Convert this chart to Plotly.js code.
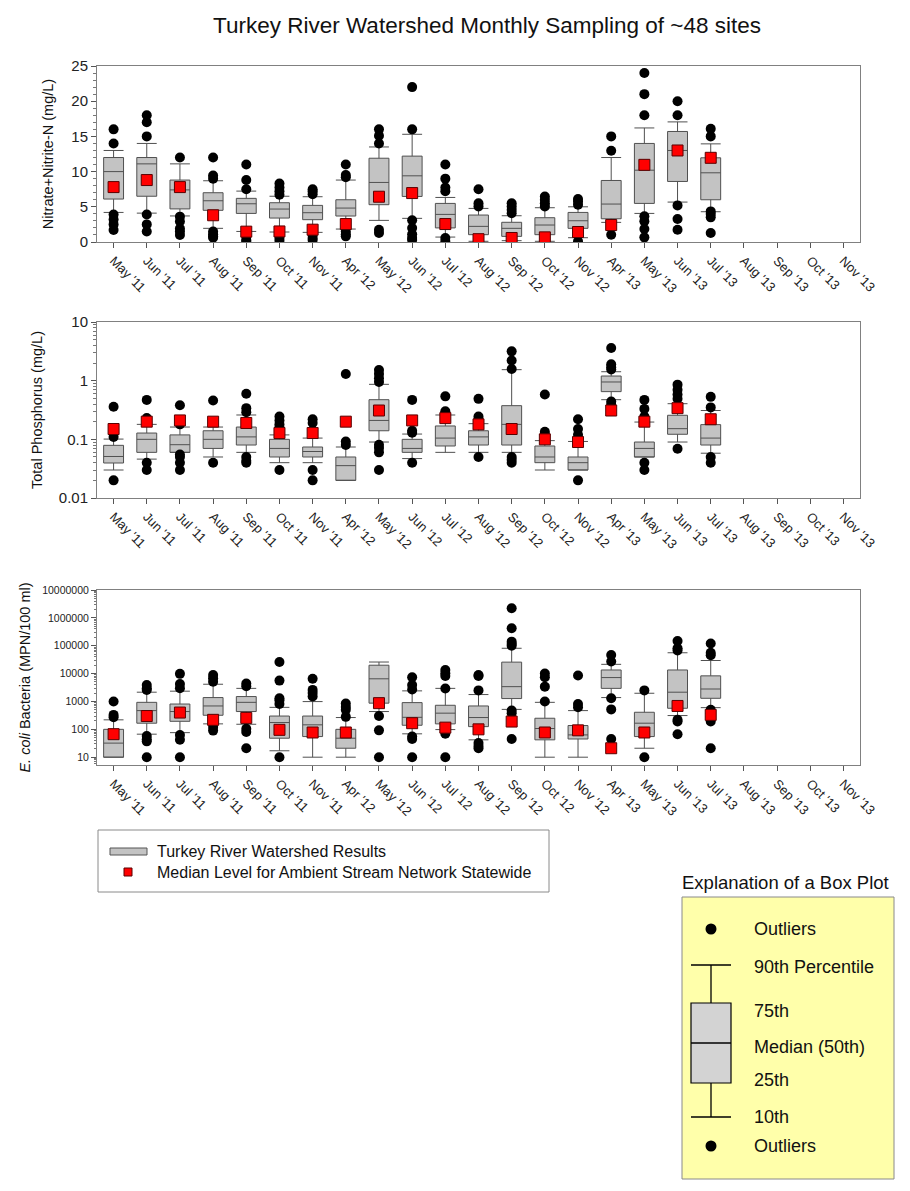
<!DOCTYPE html>
<html>
<head>
<meta charset="utf-8">
<script src="https://cdn.plot.ly/plotly-3.0.1.min.js"></script>
<style>html,body{margin:0;padding:0;background:#fff;}#chart{width:910px;height:1191px;}</style>
</head>
<body>
<div id="chart"></div>
<script>
// ---------- categories ----------
const months = ["May '11","Jun '11","Jul '11","Aug '11","Sep '11","Oct '11","Nov '11",
  "Apr '12","May '12","Jun '12","Jul '12","Aug '12","Sep '12","Oct '12","Nov '12",
  "Apr '13","May '13","Jun '13","Jul '13","Aug '13","Sep '13","Oct '13","Nov '13"];

// ---------- Nitrate+Nitrite-N (mg/L) ----------
const no3_q1  = [6.1, 6.5, 4.7, 4.5, 4.06, 3.4, 3.17, 3.69, 5.3, 6.47, 2.0, 1.04, 0.8, 1.04, 1.94, 3.3, 5.48, 8.6, 6.0];
const no3_med = [10.0, 11.1, 7.4, 5.86, 5.43, 4.68, 4.16, 4.82, 8.46, 9.4, 3.92, 2.22, 1.94, 2.41, 3.02, 5.39, 10.2, 13.0, 9.83];
const no3_q3  = [12.0, 12.0, 8.8, 7.0, 6.2, 5.58, 5.2, 6.0, 11.9, 12.2, 5.48, 3.83, 2.8, 3.45, 4.2, 8.74, 14.0, 15.7, 11.96];
const no3_p10 = [4.2, 4.1, 3.7, 1.94, 1.5, 1.42, 1.37, 1.84, 3.07, 3.36, 0.7, 0.1, 0.19, 0.1, 0.61, 2.79, 4.06, 5.67, 4.3];
const no3_p90 = [13.0, 14.0, 11.1, 8.7, 7.23, 6.5, 6.43, 8.8, 13.5, 15.3, 6.33, 4.77, 3.73, 4.87, 5.0, 12.0, 16.2, 17.06, 13.94];
const no3_out = [
  [16, 14, 3.9, 3.2, 2.5, 1.7],
  [18, 17, 15, 3.9, 2.5, 1.5],
  [12, 3.6, 2.9, 1.9, 1.5, 1.0],
  [12, 9.45, 9.0, 1.5, 1.1, 0.8, 0.6],
  [11, 8.8, 7.5, 0.8, 0.3, 0.1],
  [8.3, 7.75, 7.2, 6.7, 1.0, 0.57, 0.2],
  [7.5, 7.2, 6.8, 1.0, 0.57, 0.28],
  [11, 9.5, 9.2, 1.5, 1.1, 0.8],
  [16, 15.1, 14.0, 1.75, 1.28],
  [22, 16, 3.1, 2.0, 1.1, 0.57, 0.3],
  [11, 9.0, 7.75, 7.2, 0.57, 0.1],
  [7.5, 5.5, 5.06, 0.05],
  [5.5, 5.06, 4.58, 4.1, 0.05],
  [6.47, 6.0, 5.5, 5.06, 0.05],
  [6.1, 5.77, 5.3, 0.1],
  [15, 12.95, 1.04],
  [24, 21, 18, 3.64, 2.93, 1.84, 0.66],
  [20, 18, 5.2, 3.26, 1.75],
  [16.07, 15, 4.35, 3.97, 3.5, 1.28]
];
const no3_state = [7.8, 8.8, 7.8, 3.8, 1.47, 1.5, 1.75, 2.55, 6.43, 6.95, 2.55, 0.4, 0.57, 0.66, 1.42, 2.41, 10.96, 13.0, 11.96];

// ---------- Total Phosphorus (mg/L) ----------
const tp_q1  = [0.0395, 0.06, 0.06, 0.07, 0.08, 0.05, 0.05, 0.02, 0.14, 0.06, 0.077, 0.08, 0.08, 0.04, 0.03, 0.65, 0.05, 0.122, 0.08];
const tp_med = [0.051, 0.1, 0.081, 0.1, 0.11, 0.07, 0.062, 0.0356, 0.21, 0.07, 0.105, 0.11, 0.18, 0.05, 0.04, 0.95, 0.07, 0.152, 0.105];
const tp_q3  = [0.079, 0.128, 0.119, 0.14, 0.162, 0.1, 0.074, 0.05, 0.474, 0.1, 0.169, 0.14, 0.375, 0.077, 0.05, 1.2, 0.09, 0.257, 0.178];
const tp_p10 = [0.03, 0.046, 0.06, 0.05, 0.06, 0.04, 0.04, 0.02, 0.09, 0.047, 0.06, 0.06, 0.06, 0.03, 0.03, 0.474, 0.05, 0.09, 0.058];
const tp_p90 = [0.101, 0.18, 0.162, 0.162, 0.26, 0.119, 0.105, 0.074, 0.866, 0.123, 0.26, 0.185, 1.54, 0.095, 0.092, 1.42, 0.197, 0.405, 0.31];
const tp_out = [
  [0.36, 0.11, 0.02],
  [0.47, 0.23, 0.04, 0.03],
  [0.38, 0.18, 0.055, 0.05, 0.04, 0.03],
  [0.46, 0.04],
  [0.6, 0.34, 0.29, 0.05, 0.043, 0.04],
  [0.245, 0.21, 0.18, 0.16, 0.03],
  [0.22, 0.19, 0.03, 0.02],
  [1.3, 0.092, 0.08],
  [1.52, 1.3, 1.1, 0.95, 0.081, 0.071, 0.06, 0.03],
  [0.47, 0.14, 0.13, 0.04],
  [0.54, 0.30, 0.28],
  [0.49, 0.245, 0.22, 0.05],
  [3.16, 2.2, 1.58, 0.05, 0.045, 0.04],
  [0.58, 0.135, 0.12],
  [0.22, 0.15, 0.12, 0.02],
  [3.6, 1.9, 1.7, 1.55, 0.44, 0.39],
  [0.47, 0.33, 0.245, 0.04, 0.03],
  [0.855, 0.7, 0.58, 0.49, 0.069],
  [0.53, 0.35, 0.05, 0.04]
];
const tp_state = [0.15, 0.20, 0.21, 0.20, 0.19, 0.128, 0.128, 0.20, 0.31, 0.21, 0.23, 0.18, 0.15, 0.10, 0.09, 0.31, 0.20, 0.34, 0.22];

// ---------- E. coli Bacteria (MPN/100 ml) ----------
const ec_q1  = [10, 166, 194, 320, 435, 48, 55, 21, 870, 140, 157, 125, 1270, 42, 45, 2950, 55, 570, 1300];
const ec_med = [32, 470, 435, 690, 930, 175, 145, 48, 6500, 270, 380, 265, 3400, 107, 63, 7200, 166, 2150, 2800];
const ec_q3  = [100, 930, 810, 1380, 1500, 300, 300, 100, 20000, 910, 730, 690, 25800, 250, 137, 13500, 410, 13500, 8300];
const ec_p10 = [10, 67, 76, 157, 152, 17, 10, 10, 435, 69, 98, 42, 520, 10, 10, 1380, 21, 312, 600];
const ec_p90 = [219, 2150, 2340, 4150, 2950, 615, 990, 265, 26000, 2400, 2950, 1770, 81000, 930, 470, 21500, 1970, 56000, 29500];
const ec_out = [
  [1000, 330, 270],
  [3900, 3000, 2600, 58, 44, 37, 10],
  [9800, 4200, 3000, 63, 42, 10],
  [8900, 6800, 5100, 120, 90],
  [4400, 3500, 105, 80, 21],
  [26000, 5600, 1300, 1100, 810, 10],
  [6500, 2600, 2000, 1500],
  [850, 630, 500, 280],
  [300, 92, 10],
  [7400, 3900, 2700, 55, 45, 10],
  [13500, 10300, 8200, 2900, 69, 10],
  [8900, 8200, 2500, 32, 25, 21],
  [2200000, 425000, 140000, 116000, 100000, 470, 380, 45],
  [10000, 7400, 3400, 1000],
  [8500, 810, 620],
  [46500, 27000, 1300, 520, 45],
  [2500, 10],
  [148000, 81000, 68000, 220, 190, 67],
  [120000, 56000, 46000, 500, 380, 285, 190, 21]
];
const ec_state = [67, 300, 400, 219, 257, 96, 77, 77, 870, 166, 115, 100, 190, 77, 92, 21, 77, 690, 330];

const no3_ticks = [0, 5, 10, 15, 20, 25];
const tp_ticks = [0.01, 0.1, 1, 10];
const tp_ticktext = ["0.01", "0.1", "1", "10"];
const ec_ticks = [10, 100, 1000, 10000, 100000, 1000000, 10000000];
const ec_ticktext = ["10", "100", "1000", "10000", "100000", "1000000", "10000000"];

// minor ticks: 2..9 times each decade
function logMinor(decades) {
  const out = [];
  decades.forEach(d => { for (let k = 2; k <= 9; k++) out.push(+(d * k).toPrecision(3)); });
  return out;
}

// ---------- builders ----------
const W = 910, H = 1191;
const FONT = "Liberation Sans, Arial, Helvetica, sans-serif";
const px = v => v / W;
const py = v => 1 - v / H;

function panel(q1, med, q3, p10, p90, outs, state, xa, ya) {
  const xs = months.slice(0, q1.length);
  const box = {
    type: 'box', x: xs, q1: q1, median: med, q3: q3,
    lowerfence: p10, upperfence: p90,
    boxpoints: false, width: 0.6, whiskerwidth: 1,
    fillcolor: '#c3c3c3', line: {color: '#505050', width: 1},
    xaxis: xa, yaxis: ya, name: 'Turkey River Watershed Results',
    showlegend: false, hoverinfo: 'skip'
  };
  const ox = [], oy = [];
  outs.forEach((arr, i) => arr.forEach(v => { ox.push(xs[i]); oy.push(v); }));
  const out = {
    type: 'scatter', mode: 'markers', x: ox, y: oy,
    marker: {color: '#000', size: 10, symbol: 'circle'},
    xaxis: xa, yaxis: ya, name: 'Outliers', showlegend: false, hoverinfo: 'skip'
  };
  const st = {
    type: 'scatter', mode: 'markers', x: xs, y: state,
    marker: {color: '#ff0000', size: 11, symbol: 'square', line: {color: '#5a0000', width: 1}},
    xaxis: xa, yaxis: ya, name: 'Median Level for Ambient Stream Network Statewide',
    showlegend: false, hoverinfo: 'skip'
  };
  return [box, out, st];
}

const data = [].concat(
  panel(no3_q1, no3_med, no3_q3, no3_p10, no3_p90, no3_out, no3_state, 'x', 'y'),
  panel(tp_q1, tp_med, tp_q3, tp_p10, tp_p90, tp_out, tp_state, 'x2', 'y2'),
  panel(ec_q1, ec_med, ec_q3, ec_p10, ec_p90, ec_out, ec_state, 'x3', 'y3')
);

function xaxis(anchor) {
  return {
    domain: [px(97), px(860)], anchor: anchor, type: 'category',
    categoryorder: 'array', categoryarray: months, tickvals: months,
    range: [-0.5, months.length - 0.5], tickangle: 45,
    ticks: 'outside', ticklen: 5, tickcolor: '#555',
    showline: true, mirror: true, linecolor: '#808080', linewidth: 1,
    showgrid: false, zeroline: false,
    tickfont: {family: FONT, size: 13, color: '#222'}
  };
}
function yaxisBase(top, bottom) {
  return {
    domain: [py(bottom), py(top)], ticks: 'outside', ticklen: 5, tickcolor: '#555',
    showline: true, mirror: true, linecolor: '#808080', linewidth: 1,
    showgrid: false, zeroline: false,
    tickfont: {family: FONT, size: 15, color: '#222'}
  };
}

const layout = {
  width: W, height: H,
  margin: {l: 0, r: 0, t: 0, b: 0},
  paper_bgcolor: '#fff', plot_bgcolor: '#fff',
  font: {family: FONT, color: '#111'},
  showlegend: false,
  title: {text: 'Turkey River Watershed Monthly Sampling of ~48 sites',
          x: px(487), xanchor: 'center', y: py(25), yanchor: 'middle',
          font: {family: FONT, size: 22.5, color: '#111'}},
  xaxis: xaxis('y'),
  xaxis2: xaxis('y2'),
  xaxis3: xaxis('y3'),
  yaxis: Object.assign(yaxisBase(66, 242), {
    anchor: 'x', range: [0, 25], tickvals: no3_ticks,
    minor: {ticks: 'outside', ticklen: 3, dtick: 1, tickcolor: '#777'},
    title: {text: 'Nitrate+Nitrite-N (mg/L)', standoff: 14, font: {family: FONT, size: 14.5}}
  }),
  yaxis2: Object.assign(yaxisBase(322, 498), {
    anchor: 'x2', type: 'log', range: [-2, 1], tickvals: tp_ticks, ticktext: tp_ticktext,
    minor: {ticks: 'outside', ticklen: 3, tickcolor: '#777', tickvals: logMinor([0.01, 0.1, 1])},
    title: {text: 'Total Phosphorus (mg/L)', standoff: 12, font: {family: FONT, size: 14.5}}
  }),
  yaxis3: Object.assign(yaxisBase(590, 765), {
    anchor: 'x3', type: 'log', range: [0.72, 7], tickvals: ec_ticks, ticktext: ec_ticktext,
    tickfont: {family: FONT, size: 10.5, color: '#222'},
    minor: {ticks: 'outside', ticklen: 2, tickcolor: '#777', tickvals: logMinor([1, 10, 100, 1000, 10000, 100000, 1000000])},
    title: {text: '<i>E. coli</i> Bacteria (MPN/100 ml)', standoff: 8, font: {family: FONT, size: 14.5}}
  }),
  shapes: [],
  annotations: []
};

// ---------- legend box ----------
const S = layout.shapes, A = layout.annotations;
function rect(x0, y0, x1, y1, fill, line, lw) {
  S.push({type: 'rect', xref: 'paper', yref: 'paper', x0: px(x0), x1: px(x1), y0: py(y1), y1: py(y0),
          fillcolor: fill, line: {color: line, width: lw === undefined ? 1 : lw}});
}
function seg(x0, y0, x1, y1, col) {
  S.push({type: 'line', xref: 'paper', yref: 'paper', x0: px(x0), x1: px(x1), y0: py(y0), y1: py(y1),
          line: {color: col || '#000', width: 1.3}});
}
function dot(cx, cy, r) {
  S.push({type: 'circle', xref: 'paper', yref: 'paper', x0: px(cx - r), x1: px(cx + r), y0: py(cy + r), y1: py(cy - r),
          fillcolor: '#000', line: {color: '#000', width: 0}});
}
function text(x, y, t, size, anchor) {
  A.push({xref: 'paper', yref: 'paper', x: px(x), y: py(y), text: t, showarrow: false,
          xanchor: anchor || 'left', yanchor: 'middle', font: {family: FONT, size: size, color: '#111'}});
}

rect(98, 830, 549, 892, 'rgba(0,0,0,0)', '#8a8a8a', 1);
rect(110, 848, 147, 855, '#c3c3c3', '#555', 1);
rect(124, 868, 132, 876, '#ff0000', '#5a0000', 1);
text(155, 851, 'Turkey River Watershed Results', 16);
text(155, 872, 'Median Level for Ambient Stream Network Statewide', 16);

// ---------- explanation of a box plot ----------
text(680, 882, 'Explanation of a Box Plot', 18.5);
rect(682, 897, 894, 1179, '#ffffaa', '#8a8a8a', 1);
dot(711, 929, 5.5);
seg(691, 965, 731, 965);
seg(711, 965, 711, 1003);
rect(691, 1003, 731, 1083, '#d3d3d3', '#000', 1.2);
seg(691, 1043, 731, 1043);
seg(711, 1083, 711, 1117);
seg(691, 1117, 731, 1117);
dot(711, 1146, 5.5);
text(752, 929, 'Outliers', 18);
text(752, 967, '90th Percentile', 18);
text(752, 1011, '75th', 18);
text(752, 1047, 'Median (50th)', 18);
text(752, 1080, '25th', 18);
text(752, 1117, '10th', 18);
text(752, 1146, 'Outliers', 18);

Plotly.newPlot('chart', data, layout, {displayModeBar: false, staticPlot: true});
</script>
</body>
</html>
